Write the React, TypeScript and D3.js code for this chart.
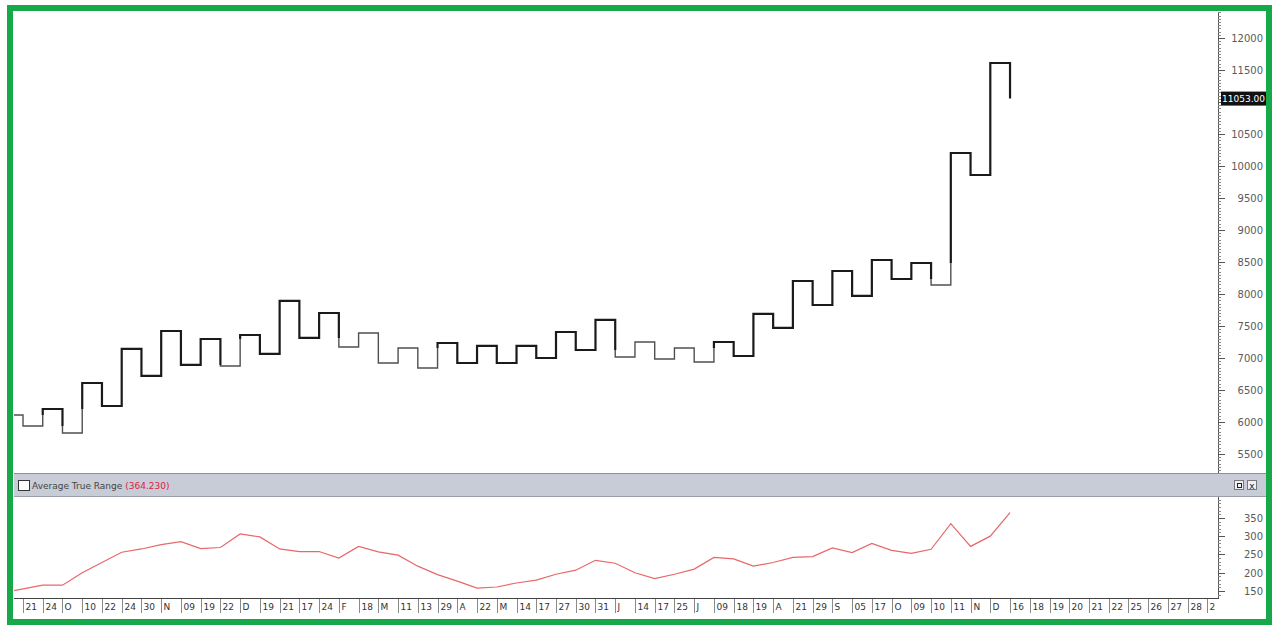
import { scaleLinear, line, range } from 'd3';

const W = 1276;
const H = 629;

// kagi turning levels, one per step (index 0 = level before first reversal)
const kagiLevels = [
  6109, 5937, 6203, 5828, 6609, 6250, 7141, 6719, 7422, 6891, 7297, 6875, 7359,
  7063, 7891, 7313, 7703, 7172, 7391, 6922, 7156, 6844, 7234, 6922, 7188, 6922,
  7188, 7000, 7406, 7125, 7594, 7016, 7250, 6984, 7156, 6938, 7250, 7031, 7688,
  7469, 8203, 7828, 8359, 7969, 8531, 8234, 8484, 8141, 10203, 9859, 11609, 11053,
];

// Average True Range, one value per step
const atrValues = [
  145, 156, 166, 166, 200, 228, 256, 265, 277, 285, 266, 269, 306, 298, 265, 258,
  258, 240, 272, 257, 248, 218, 195, 177, 158, 161, 172, 180, 196, 207, 234, 226,
  200, 184, 196, 210, 242, 238, 218, 228, 242, 244, 268, 255, 280, 261, 253, 264,
  334, 272, 300, 364,
];

// date labels for steps 1..61
const dateLabels = [
  '21', '24', 'O', '10', '22', '24', '30', 'N', '09', '19', '22', 'D', '19', '21',
  '17', '24', 'F', '18', 'M', '11', '13', '29', 'A', '22', 'M', '14', '17', '27',
  '30', '31', 'J', '14', '17', '25', 'J', '09', '18', '19', 'A', '21', '29', 'S',
  '05', '17', 'O', '09', '10', '11', 'N', 'D', '16', '18', '19', '20', '21', '22',
  '25', '26', '27', '28', '2',
];

const priceTicks = [5500, 6000, 6500, 7000, 7500, 8000, 8500, 9000, 9500, 10000, 10500, 11000, 11500, 12000];
const atrTicks = [150, 200, 250, 300, 350];
const lastPrice = 11053;
const lastAtr = 364.23;

const plotLeft = 14;
const plotRight = 1218;
const mainTop = 12;
const mainBottom = 473;
const atrTop = 497;
const atrBottom = 598;
const font = 'DejaVu Sans, Verdana, sans-serif';

const xScale = scaleLinear().domain([0, 61.55]).range([3.26, 1218.3]);
const yMain = scaleLinear().domain([5203, 12406]).range([mainBottom, mainTop]);
const yAtr = scaleLinear().domain([131, 407]).range([atrBottom, atrTop]);

type Pt = [number, number];
interface Run {
  thick: boolean;
  pts: Pt[];
}

// split the kagi path into yang (thick) and yin (thin) runs
const buildRuns = (levels: number[]) => {
  const runs: Run[] = [];
  let thick = false;
  let cur: Run = { thick, pts: [[0, levels[0]]] };
  for (let i = 1; i < levels.length; i++) {
    const from = levels[i - 1];
    const to = levels[i];
    cur.pts.push([i, from]);
    const ref = i >= 2 ? levels[i - 2] : null;
    let flip: number | null = null;
    if (ref !== null && to > from && !thick && to > ref) flip = ref;
    if (ref !== null && to < from && thick && to < ref) flip = ref;
    if (flip !== null) {
      cur.pts.push([i, flip]);
      runs.push(cur);
      thick = !thick;
      cur = { thick, pts: [[i, flip]] };
    }
    cur.pts.push([i, to]);
  }
  runs.push(cur);
  return runs;
};

const App = () => {
  const runs = buildRuns(kagiLevels);
  const kagiLine = line<Pt>()
    .x(d => xScale(d[0]))
    .y(d => yMain(d[1]));
  const atrLine = line<number>()
    .x((_, i) => xScale(i))
    .y(d => yAtr(d));

  const minorPrice = range(5250, 12450, 50);
  const minorAtr = range(140, 405, 10);

  return (
    <div style={{ position: 'absolute', left: 0, top: 0 }}>
      <svg width={W} height={H} style={{ display: 'block', fontFamily: font }}>
        <defs>
          <clipPath id="mainClip">
            <rect x={plotLeft} y={mainTop} width={plotRight - plotLeft} height={mainBottom - mainTop} />
          </clipPath>
          <clipPath id="atrClip">
            <rect x={plotLeft} y={atrTop} width={plotRight - plotLeft} height={atrBottom - atrTop} />
          </clipPath>
        </defs>
        <rect x={0} y={0} width={W} height={H} fill="#fff" />

        {/* main kagi panel */}
        <g clipPath="url(#mainClip)">
          {runs.map((r, i) => (
            <path
              key={i}
              d={kagiLine(r.pts) || ''}
              fill="none"
              stroke={r.thick ? '#1a1a1a' : '#505050'}
              strokeWidth={r.thick ? 2.2 : 1.4}
              strokeLinejoin="miter"
            />
          ))}
        </g>

        {/* right price axis */}
        <line x1={plotRight + 0.5} x2={plotRight + 0.5} y1={mainTop} y2={mainBottom} stroke="#555" />
        {minorPrice.map(v => (
          <line key={v} x1={plotRight} x2={plotRight + 3} y1={Math.round(yMain(v)) + 0.5} y2={Math.round(yMain(v)) + 0.5} stroke="#888" />
        ))}
        {priceTicks.map(v => (
          <g key={v} transform={`translate(0,${Math.round(yMain(v)) + 0.5})`}>
            <line x1={plotRight} x2={plotRight + 7} stroke="#555" />
            {v !== 11000 && (
              <text x={1263} dy="0.35em" textAnchor="end" fontSize={10} fill="#5a5a5a">
                {v}
              </text>
            )}
          </g>
        ))}
        <rect x={1221} y={yMain(lastPrice) - 7} width={45} height={14} fill="#111" />
        <text x={1243.5} y={yMain(lastPrice)} dy="0.35em" textAnchor="middle" fontSize={9} fill="#fff">
          {lastPrice.toFixed(2)}
        </text>

        {/* ATR header bar */}
        <rect x={plotLeft} y={473} width={1266 - plotLeft} height={24} fill="#c8ccd7" />
        <line x1={plotLeft} x2={1266} y1={473.5} y2={473.5} stroke="#8c9099" />
        <line x1={plotLeft} x2={1266} y1={496.5} y2={496.5} stroke="#9a9ea8" />
        <rect x={18.5} y={480.5} width={11} height={10} fill="#fff" stroke="#333" />
        <text x={32} y={489} fontSize={9} fill="#444">
          Average True Range <tspan fill="#e0203a">({lastAtr.toFixed(3)})</tspan>
        </text>
        <rect x={1234.5} y={480.5} width={9} height={9} fill="#eef0f4" stroke="#777" />
        <rect x={1237.5} y={483.5} width={4} height={4} fill="none" stroke="#222" />
        <rect x={1247.5} y={480.5} width={9} height={9} fill="#eef0f4" stroke="#777" />
        <text x={1252} y={488.5} textAnchor="middle" fontSize={9} fill="#222">
          x
        </text>

        {/* ATR panel */}
        <g clipPath="url(#atrClip)">
          <path d={atrLine(atrValues) || ''} fill="none" stroke="#e8676a" strokeWidth={1.2} />
        </g>
        <line x1={plotRight + 0.5} x2={plotRight + 0.5} y1={atrTop} y2={atrBottom} stroke="#555" />
        {minorAtr.map(v => (
          <line key={v} x1={plotRight} x2={plotRight + 3} y1={Math.round(yAtr(v)) + 0.5} y2={Math.round(yAtr(v)) + 0.5} stroke="#888" />
        ))}
        {atrTicks.map(v => (
          <g key={v} transform={`translate(0,${Math.round(yAtr(v)) + 0.5})`}>
            <line x1={plotRight} x2={plotRight + 7} stroke="#555" />
            <text x={1263} dy="0.35em" textAnchor="end" fontSize={10} fill="#5a5a5a">
              {v}
            </text>
          </g>
        ))}

        {/* date axis */}
        <line x1={plotLeft} x2={plotRight + 1} y1={atrBottom + 0.5} y2={atrBottom + 0.5} stroke="#444" />
        {dateLabels.map((lab, i) => {
          const x = Math.round(xScale(i + 1)) + 0.5;
          return (
            <g key={i}>
              <line x1={x} x2={x} y1={atrBottom + 1} y2={atrBottom + 15} stroke="#8a8a8a" />
              {x + 4 < plotRight && (
                <text x={x + 2} y={atrBottom + 12} fontSize={9} fill="#333">
                  {lab}
                </text>
              )}
            </g>
          );
        })}

        {/* green frame */}
        <rect x={10} y={8} width={1259} height={614} fill="none" stroke="#17a84a" strokeWidth={6} />
      </svg>
    </div>
  );
};

export default App;
